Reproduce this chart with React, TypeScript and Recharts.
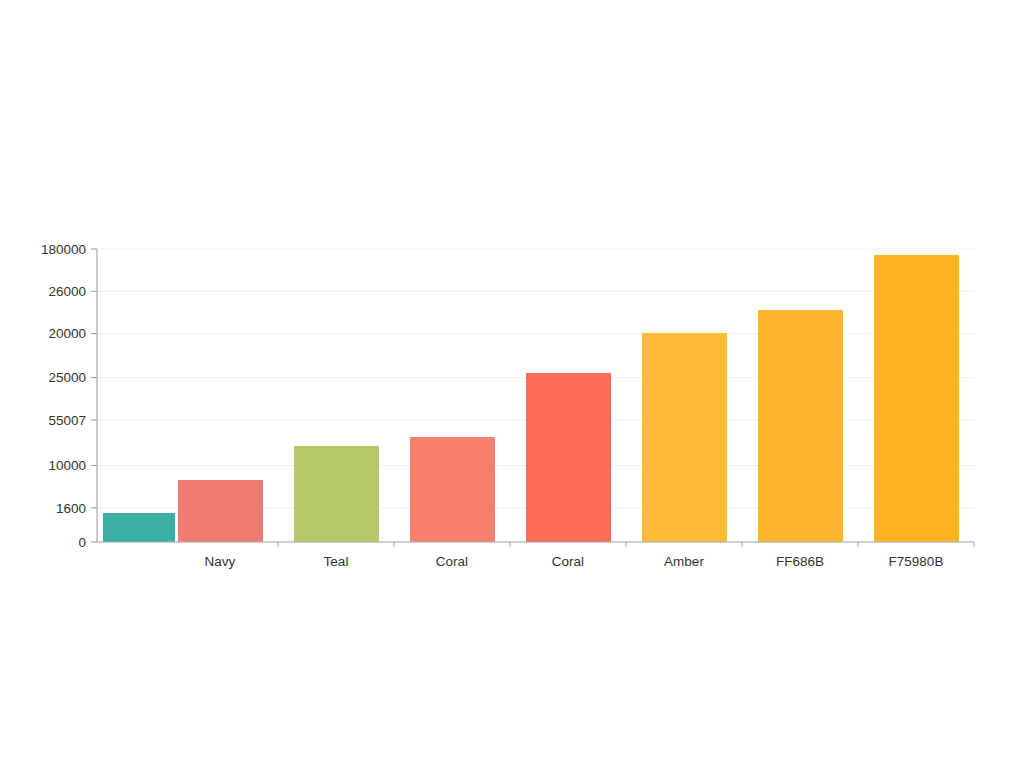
import { BarChart, Bar, XAxis, YAxis, CartesianGrid, Cell } from 'recharts';

const categories = ['Navy', 'Teal', 'Coral', 'Coral', 'Amber', 'FF686B', 'F75980B'];
const values = [38100, 59000, 64500, 103800, 128400, 142500, 176300];
// extra leading bar that sits left of the first category
const leadValues = [17800, null, null, null, null, null, null];
const barColors = ['#ef7b73', '#b5c966', '#fb7f6e', '#fd6b59', '#fdbb36', '#feb72d', '#ffb323'];
const leadColor = '#3aafa6';
const yTicks = [0, 21000, 47000, 75000, 101000, 128000, 154000, 180000];
const yTickLabels = ['0', '1600', '10000', '55007', '25000', '20000', '26000', '180000'];

const data = categories.map((name, i) => ({ name, value: values[i], lead: leadValues[i] }));

const font = '"Liberation Sans", Arial, sans-serif';

function XTick({ x, y, payload }: any) {
  return (
    <g>
      <line x1={x + 58} x2={x + 58} y1={y - 11} y2={y - 6} stroke="#999" />
      <text x={x} y={y} dy={13} textAnchor="middle" fill="#333" fontSize={13.5} fontFamily={font}>
        {payload.value}
      </text>
    </g>
  );
}

export default function App() {
  return (
    <div style={{ position: 'absolute', left: 0, top: 0, width: 1024, height: 768, background: '#fff' }}>
      <BarChart
        width={1024}
        height={768}
        data={data}
        margin={{ top: 249, right: 50, bottom: 196, left: 0 }}
        barCategoryGap={0}
      >
        <CartesianGrid vertical={false} stroke="#f1f1f1" />
        <XAxis
          dataKey="name"
          padding={{ left: 65, right: 0 }}
          stroke="#aaa"
          tickLine={false}
          tickSize={6}
          tickMargin={5}
          tick={<XTick />}
          interval={0}
        />
        <XAxis xAxisId="lead" dataKey="name" hide padding={{ left: 0, right: 289 }} />
        <YAxis
          width={97}
          domain={[0, 180000]}
          ticks={yTicks}
          interval={0}
          stroke="#999"
          tickSize={6}
          tickMargin={5}
          tickFormatter={(v: number) => yTickLabels[yTicks.indexOf(v)] ?? ''}
          tick={{ fill: '#333', fontSize: 13.5, fontFamily: font }}
        />
        <Bar dataKey="value" barSize={85} isAnimationActive={false}>
          {data.map((_, i) => (
            <Cell key={i} fill={barColors[i]} />
          ))}
        </Bar>
        <Bar dataKey="lead" xAxisId="lead" barSize={72} fill={leadColor} isAnimationActive={false} />
      </BarChart>
    </div>
  );
}
